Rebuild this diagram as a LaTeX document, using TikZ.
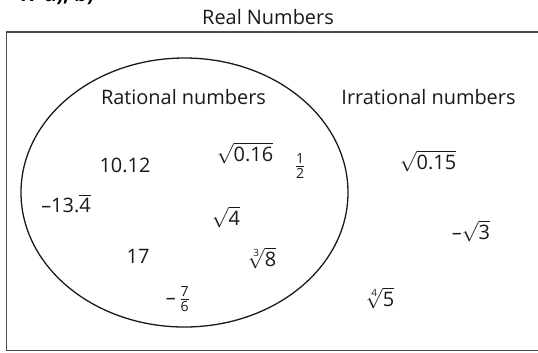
\documentclass[tikz,border=0pt]{standalone}
\usepackage{amsmath}
\usepackage{fontspec}
\setmainfont{Open Sans}
\begin{document}
\begin{tikzpicture}[x=0.03cm,y=-0.03cm,
  lbl/.style={font=\fontsize{17}{20}\selectfont, text=black!90, inner sep=0pt},
  num/.style={font=\fontsize{17}{20}\selectfont, text=black!90, inner sep=0pt}]
\useasboundingbox (0,0) rectangle (538,352);
\fill[white] (0,0) rectangle (538,352);
% cut-off heading
\node[anchor=base, font=\bfseries\fontsize{17}{20}\selectfont, inner sep=0pt] (head) at (55,1.5) {17 a), b)};
\node[lbl] (title) at (268,17) {Real Numbers};
\draw[line width=1.6pt, black!70] (6.5,32) rectangle (545,350.5);
\draw[line width=1.1pt, black!90] (184.5,192.5) ellipse [x radius=163.5, y radius=134.5];
\node[lbl] (rat) at (183.5,97) {Rational numbers};
\node[lbl] (irr) at (428.5,97) {Irrational numbers};
\node[num] (a) at (125,165) {10.12};
\node[num] (b) at (245,153) {$\sqrt{\text{0.16}}$};
\node[num] (c) at (300,166) {$\tfrac{\text{1}}{\text{2}}$};
\node[num] (d) at (66,203) {–13.$\overline{\text{4}}$};
\node[num] (e) at (226,217) {$\sqrt{\text{4}}$};
\node[num] (f) at (138,256) {17};
\node[num] (g) at (262,258) {$\sqrt[\text{3}]{\text{8}}$};
\node[num] (h) at (178,299) {–\,$\tfrac{\text{7}}{\text{6}}$};
\node[num] (i) at (428,161) {$\sqrt{\text{0.15}}$};
\node[num] (j) at (471,231) {–$\sqrt{\text{3}}$};
\node[num] (k) at (380,298) {$\sqrt[\text{4}]{\text{5}}$};
\end{tikzpicture}
\end{document}
